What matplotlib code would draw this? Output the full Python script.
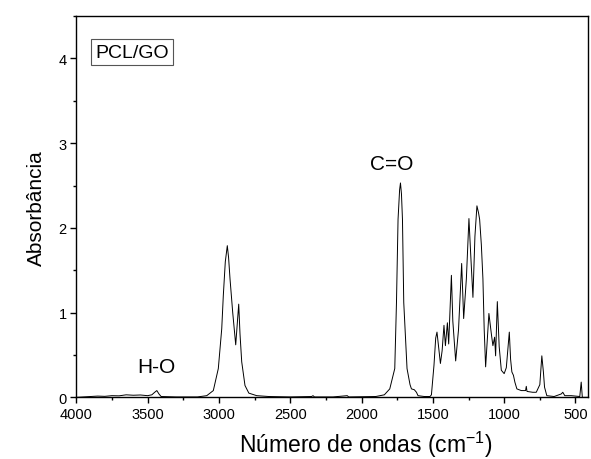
import numpy as np
import matplotlib
matplotlib.use('Agg')
from matplotlib import pyplot as plt
from matplotlib.ticker import MultipleLocator

# FTIR spectrum of PCL/GO
wavenumber = [4000, 3950, 3900, 3850, 3800, 3750, 3700, 3650, 3600, 3550, 3500, 3470, 3450, 3435,
              3420, 3405, 3300, 3150, 3085, 3039, 3004, 2980, 2969, 2955, 2941, 2932, 2922, 2903,
              2882, 2872, 2861, 2852, 2840, 2817, 2790, 2735, 2650, 2500, 2350, 2340, 2330, 2200,
              2100, 2090, 1900, 1840, 1802, 1767, 1755, 1744, 1733, 1727, 1720, 1713, 1704, 1681,
              1660, 1650, 1630, 1615, 1604, 1560, 1520, 1510, 1492, 1480, 1471, 1460, 1447, 1435,
              1422, 1412, 1398, 1389, 1380, 1370, 1360, 1340, 1320, 1298, 1284, 1265, 1247, 1235,
              1219, 1205, 1191, 1180, 1172, 1160, 1149, 1140, 1130, 1118, 1107, 1090, 1079, 1067,
              1060, 1048, 1035, 1020, 1000, 985, 964, 955, 946, 935, 925, 911, 880, 850, 845, 840,
              800, 775, 750, 736, 725, 717, 701, 650, 600, 589, 575, 530, 470, 460, 452, 412]
absorbance = [0.0, 0.005, 0.01, 0.015, 0.012, 0.02, 0.018, 0.03, 0.025, 0.028, 0.02, 0.03, 0.06, 0.08,
              0.04, 0.01, 0.005, 0.005, 0.02, 0.08, 0.34, 0.81, 1.20, 1.60, 1.79, 1.65, 1.40, 1.00,
              0.62, 0.85, 1.10, 0.75, 0.42, 0.14, 0.05, 0.02, 0.01, 0.005, 0.01, 0.02, 0.005, 0.005,
              0.02, 0.005, 0.01, 0.03, 0.10, 0.34, 1.12, 2.10, 2.45, 2.53, 2.40, 2.10, 1.12, 0.34,
              0.15, 0.10, 0.09, 0.06, 0.02, 0.01, 0.01, 0.03, 0.38, 0.70, 0.77, 0.60, 0.40, 0.55,
              0.85, 0.61, 0.88, 0.63, 1.00, 1.44, 0.90, 0.43, 0.80, 1.58, 0.93, 1.40, 2.11, 1.70,
              1.18, 1.90, 2.26, 2.18, 2.10, 1.80, 1.40, 0.80, 0.36, 0.70, 0.99, 0.75, 0.61, 0.71,
              0.49, 1.13, 0.60, 0.32, 0.28, 0.35, 0.77, 0.45, 0.30, 0.26, 0.18, 0.10, 0.08, 0.08, 0.13, 0.07,
              0.06, 0.06, 0.15, 0.49, 0.30, 0.12, 0.02, 0.01, 0.04, 0.06, 0.02, 0.02, 0.01, 0.18, 0.0, 0.0]

font = ['Liberation Sans', 'DejaVu Sans']
plt.rcParams['font.family'] = font
plt.rcParams['mathtext.fontset'] = 'custom'
plt.rcParams['mathtext.rm'] = 'Liberation Sans'

fig = plt.figure(figsize=(5.91, 4.6), dpi=100)
ax = fig.add_axes([0.129, 0.134, 0.866, 0.829])

ax.plot(wavenumber, absorbance, color='black', linewidth=0.7)

ax.set_xlim(4000, 412)
ax.set_ylim(0, 4.5)
ax.xaxis.set_major_locator(MultipleLocator(500))
ax.xaxis.set_minor_locator(MultipleLocator(250))
ax.yaxis.set_major_locator(MultipleLocator(1))
ax.yaxis.set_minor_locator(MultipleLocator(0.5))
ax.tick_params(which='major', direction='out', length=4, width=1, labelsize=10.5, pad=3)
ax.tick_params(which='minor', direction='out', length=2.5, width=1)
for s in ax.spines.values():
    s.set_linewidth(1)

ax.set_xlabel('Número de ondas (cm$^{\\mathregular{-1}}$)', fontsize=16.5)
ax.xaxis.set_label_coords(0.565, -0.082)
ax.xaxis.label.set_va('top')
ax.set_ylabel('Absorbância', fontsize=15, labelpad=9)

ax.text(0.109, 0.905, 'PCL/GO', transform=ax.transAxes, fontsize=14,
        ha='center', va='center',
        bbox=dict(boxstyle='square,pad=0.22', facecolor='white', edgecolor='#555555', linewidth=0.8))
ax.text(3438, 0.36, 'H-O', fontsize=15, ha='center', va='center')
ax.text(1788, 2.76, 'C=O', fontsize=15, ha='center', va='center')

plt.savefig('out.png', dpi=100)
